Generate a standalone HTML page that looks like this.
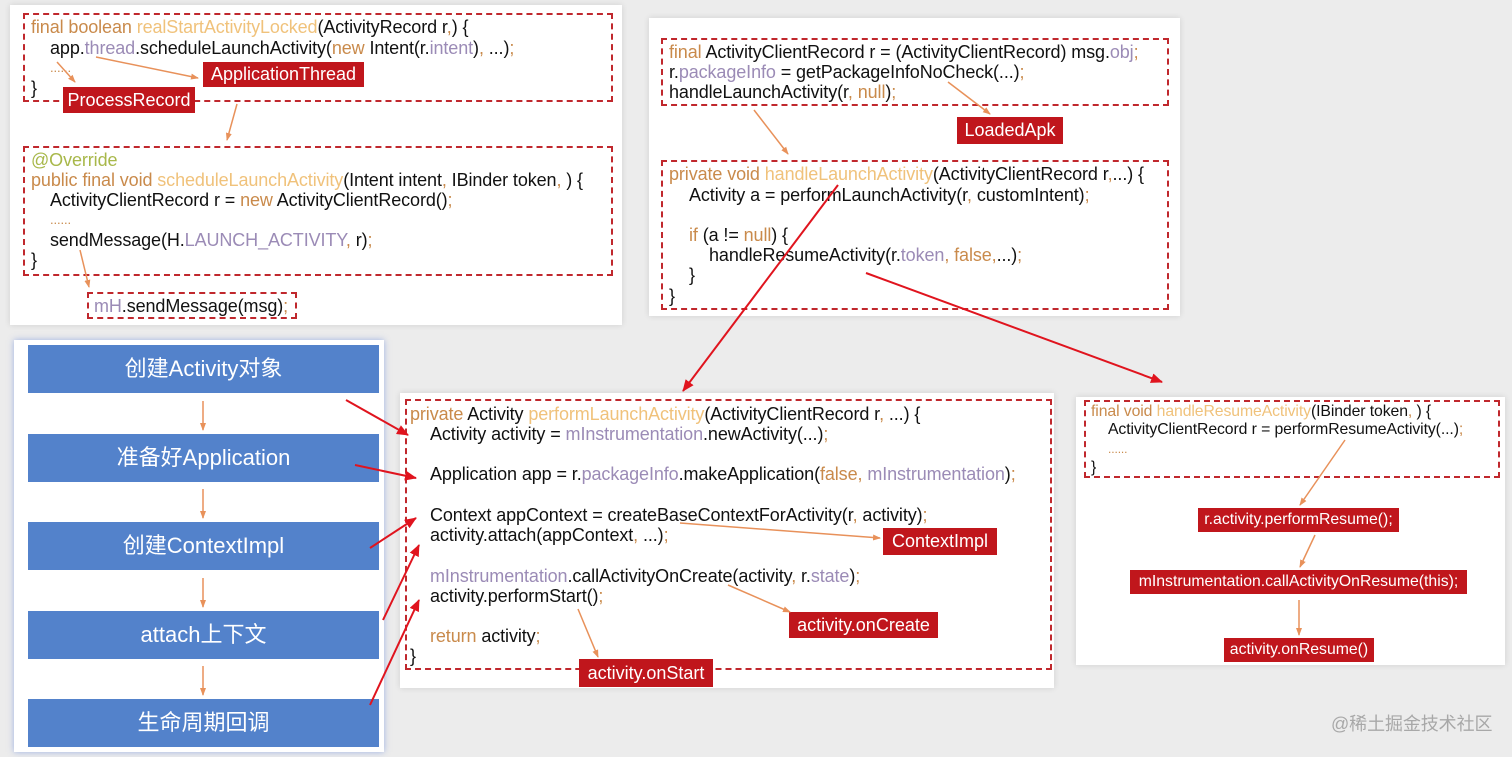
<!DOCTYPE html>
<html><head><meta charset="utf-8"><style>
*{margin:0;padding:0;box-sizing:border-box}
body{width:1512px;height:757px;background:#ececec;position:relative;overflow:hidden;font-family:"Liberation Sans","Noto Sans CJK SC",sans-serif;color:#111}
.p{position:absolute;background:#fff;box-shadow:0 0 6px rgba(0,0,0,.12)}
.d{position:absolute;border:2px dashed #c0282d}
.t{position:absolute;white-space:pre;font-size:18px;line-height:20px;letter-spacing:-0.1px}
.s{font-size:15.8px}
.k{color:#c98a4b}.m{color:#f0c27b}.u{color:#9b8bb6}.g{color:#a8b84a}
.l{position:absolute;background:#c0161c;color:#fff;font-size:18px;text-align:center;white-space:nowrap}
.b{position:absolute;left:28px;width:351px;height:48px;background:#5382cb;color:#fff;font-size:22px;line-height:48px;text-align:center}
</style></head><body>

<div class="p" style="left:10px;top:5px;width:612px;height:320px"></div>
<div class="p" style="left:649px;top:18px;width:531px;height:298px"></div>
<div class="p" style="left:14px;top:340px;width:370px;height:412px;box-shadow:0 0 6px rgba(80,120,220,.5)"></div>
<div class="p" style="left:400px;top:393px;width:654px;height:295px"></div>
<div class="p" style="left:1076px;top:397px;width:429px;height:268px"></div>

<div class="d" style="left:23px;top:13px;width:590px;height:89px"></div>
<div class="d" style="left:23px;top:146px;width:590px;height:130px"></div>
<div class="d" style="left:87px;top:292px;width:210px;height:27px"></div>
<div class="d" style="left:661px;top:38px;width:508px;height:68px"></div>
<div class="d" style="left:661px;top:160px;width:508px;height:150px"></div>
<div class="d" style="left:405px;top:399px;width:647px;height:271px"></div>
<div class="d" style="left:1084px;top:400px;width:416px;height:78px"></div>

<div class="t" style="left:31px;top:17px"><span class="k">final boolean </span><span class="m">realStartActivityLocked</span>(ActivityRecord r<span class="k">,</span>) {</div>
<div class="t" style="left:50px;top:38px">app.<span class="u">thread</span>.scheduleLaunchActivity(<span class="k">new</span> Intent(r.<span class="u">intent</span>)<span class="k">,</span> ...)<span class="k">;</span></div>
<div class="t k" style="left:50px;top:58px;font-size:13px">......</div>
<div class="t" style="left:31px;top:78px">}</div>
<div class="t g" style="left:31px;top:150px">@Override</div>
<div class="t" style="left:31px;top:170px"><span class="k">public final void </span><span class="m">scheduleLaunchActivity</span>(Intent intent<span class="k">,</span> IBinder token<span class="k">,</span> ) {</div>
<div class="t" style="left:50px;top:190px">ActivityClientRecord r = <span class="k">new</span> ActivityClientRecord()<span class="k">;</span></div>
<div class="t k" style="left:50px;top:210px;font-size:13px">......</div>
<div class="t" style="left:50px;top:230px">sendMessage(H.<span class="u">LAUNCH_ACTIVITY</span><span class="k">,</span> r)<span class="k">;</span></div>
<div class="t" style="left:31px;top:250px">}</div>
<div class="t" style="left:94px;top:296px"><span class="u">mH</span>.sendMessage(msg)<span class="k">;</span></div>

<div class="l" style="left:203px;top:62px;width:161px;height:25px;line-height:25px">ApplicationThread</div>
<div class="l" style="left:63px;top:87px;width:132px;height:26px;line-height:26px">ProcessRecord</div>

<div class="t" style="left:669px;top:42px"><span class="k">final </span>ActivityClientRecord r = (ActivityClientRecord) msg.<span class="u">obj</span><span class="k">;</span></div>
<div class="t" style="left:669px;top:62px">r.<span class="u">packageInfo</span> = getPackageInfoNoCheck(...)<span class="k">;</span></div>
<div class="t" style="left:669px;top:82px">handleLaunchActivity(r<span class="k">, null</span>)<span class="k">;</span></div>
<div class="l" style="left:957px;top:117px;width:106px;height:27px;line-height:27px">LoadedApk</div>
<div class="t" style="left:669px;top:164px"><span class="k">private void </span><span class="m">handleLaunchActivity</span>(ActivityClientRecord r<span class="k">,</span>...) {</div>
<div class="t" style="left:689px;top:185px">Activity a = performLaunchActivity(r<span class="k">,</span> customIntent)<span class="k">;</span></div>
<div class="t" style="left:689px;top:225px"><span class="k">if</span> (a != <span class="k">null</span>) {</div>
<div class="t" style="left:709px;top:245px">handleResumeActivity(r.<span class="u">token</span><span class="k">, false,</span>...)<span class="k">;</span></div>
<div class="t" style="left:689px;top:265px">}</div>
<div class="t" style="left:669px;top:286px">}</div>

<div class="b" style="top:345px">创建Activity对象</div>
<div class="b" style="top:434px">准备好Application</div>
<div class="b" style="top:522px">创建ContextImpl</div>
<div class="b" style="top:611px">attach上下文</div>
<div class="b" style="top:699px">生命周期回调</div>

<div class="t" style="left:410px;top:404px"><span class="k">private </span>Activity <span class="m">performLaunchActivity</span>(ActivityClientRecord r<span class="k">,</span> ...) {</div>
<div class="t" style="left:430px;top:424px">Activity activity = <span class="u">mInstrumentation</span>.newActivity(...)<span class="k">;</span></div>
<div class="t" style="left:430px;top:464px">Application app = r.<span class="u">packageInfo</span>.makeApplication(<span class="k">false,</span> <span class="u">mInstrumentation</span>)<span class="k">;</span></div>
<div class="t" style="left:430px;top:505px">Context appContext = createBaseContextForActivity(r<span class="k">,</span> activity)<span class="k">;</span></div>
<div class="t" style="left:430px;top:525px">activity.attach(appContext<span class="k">,</span> ...)<span class="k">;</span></div>
<div class="t" style="left:430px;top:566px"><span class="u">mInstrumentation</span>.callActivityOnCreate(activity<span class="k">,</span> r.<span class="u">state</span>)<span class="k">;</span></div>
<div class="t" style="left:430px;top:586px">activity.performStart()<span class="k">;</span></div>
<div class="t" style="left:430px;top:626px"><span class="k">return </span>activity<span class="k">;</span></div>
<div class="t" style="left:410px;top:646px">}</div>
<div class="l" style="left:883px;top:528px;width:114px;height:27px;line-height:27px">ContextImpl</div>
<div class="l" style="left:789px;top:612px;width:149px;height:26px;line-height:26px">activity.onCreate</div>
<div class="l" style="left:579px;top:659px;width:134px;height:28px;line-height:28px">activity.onStart</div>

<div class="t s" style="left:1091px;top:402px"><span class="k">final void </span><span class="m">handleResumeActivity</span>(IBinder token<span class="k">,</span> ) {</div>
<div class="t s" style="left:1108px;top:420px">ActivityClientRecord r = performResumeActivity(...)<span class="k">;</span></div>
<div class="t s k" style="left:1108px;top:439px;font-size:12px">......</div>
<div class="t s" style="left:1091px;top:458px">}</div>
<div class="l" style="left:1198px;top:508px;width:201px;height:24px;line-height:24px;font-size:15.8px">r.activity.performResume();</div>
<div class="l" style="left:1130px;top:570px;width:337px;height:24px;line-height:24px;font-size:15.8px">mInstrumentation.callActivityOnResume(this);</div>
<div class="l" style="left:1224px;top:638px;width:150px;height:24px;line-height:24px;font-size:15.8px">activity.onResume()</div>

<div class="t" style="left:1331px;top:714px;color:#a8a8a8;font-size:18px">@稀土掘金技术社区</div>

<svg width="1512" height="757" style="position:absolute;left:0;top:0">
<defs>
<marker id="o" markerWidth="8" markerHeight="8" refX="7" refY="4" orient="auto" markerUnits="userSpaceOnUse"><path d="M0,1 L8,4 L0,7z" fill="#e8915a"/></marker>
<marker id="r" markerWidth="12" markerHeight="10" refX="11" refY="5" orient="auto" markerUnits="userSpaceOnUse"><path d="M0,0 L12,5 L0,10z" fill="#e0141e"/></marker>
</defs>
<g stroke="#e8915a" stroke-width="1.5" fill="none" marker-end="url(#o)">
<line x1="57" y1="62" x2="75" y2="82"/>
<line x1="96" y1="57" x2="198" y2="78"/>
<line x1="237" y1="104" x2="227" y2="140"/>
<line x1="80" y1="250" x2="89" y2="287"/>
<line x1="754" y1="110" x2="788" y2="154"/>
<line x1="948" y1="82" x2="990" y2="114"/>
<line x1="680" y1="523" x2="880" y2="538"/>
<line x1="728" y1="585" x2="790" y2="612"/>
<line x1="578" y1="609" x2="598" y2="657"/>
<line x1="1345" y1="440" x2="1300" y2="505"/>
<line x1="1315" y1="535" x2="1300" y2="567"/>
<line x1="1299" y1="600" x2="1299" y2="635"/>
<line x1="203" y1="401" x2="203" y2="430"/>
<line x1="203" y1="489" x2="203" y2="518"/>
<line x1="203" y1="578" x2="203" y2="607"/>
<line x1="203" y1="666" x2="203" y2="695"/>
</g>
<g stroke="#e0141e" stroke-width="2" fill="none" marker-end="url(#r)">
<line x1="838" y1="185" x2="683" y2="391"/>
<line x1="866" y1="273" x2="1162" y2="382"/>
<line x1="346" y1="400" x2="408" y2="435"/>
<line x1="355" y1="465" x2="416" y2="478"/>
<line x1="370" y1="548" x2="416" y2="518"/>
<line x1="383" y1="620" x2="419" y2="545"/>
<line x1="370" y1="705" x2="419" y2="600"/>
</g>
</svg>
</body></html>
